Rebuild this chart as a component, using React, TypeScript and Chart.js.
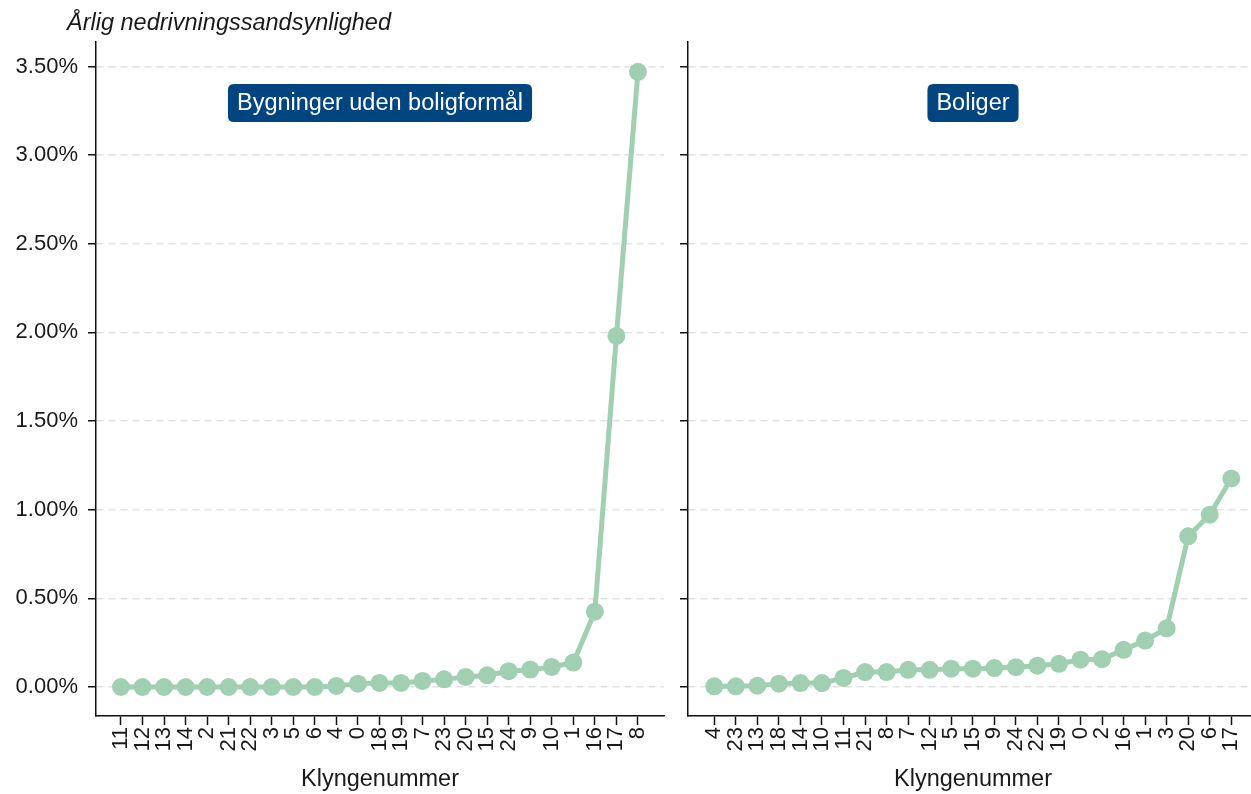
import React, { useEffect, useRef } from "react";
import { Chart, registerables } from "chart.js";

Chart.register(...registerables);

// ---- Data ----
const leftLabels = ["11", "12", "13", "14", "2", "21", "22", "3", "5", "6", "4", "0", "18", "19", "7", "23", "20", "15", "24", "9", "10", "1", "16", "17", "8"];
const leftValues = [0, 0, 0, 0, 0, 0, 0, 0, 0, 0, 0.006, 0.019, 0.023, 0.023, 0.034, 0.043, 0.057, 0.066, 0.089, 0.098, 0.113, 0.138, 0.425, 1.98, 3.47];

const rightLabels = ["4", "23", "13", "18", "14", "10", "11", "21", "8", "7", "12", "5", "15", "9", "24", "22", "19", "0", "2", "16", "1", "3", "20", "6", "17"];
const rightValues = [0.004, 0.004, 0.007, 0.019, 0.022, 0.022, 0.051, 0.084, 0.084, 0.097, 0.097, 0.103, 0.103, 0.107, 0.112, 0.12, 0.131, 0.154, 0.157, 0.21, 0.262, 0.331, 0.85, 0.972, 1.176];

const yTicks = [0, 0.5, 1, 1.5, 2, 2.5, 3, 3.5];
const leftTitle = "Bygninger uden boligformål";
const rightTitle = "Boliger";
const yAxisTitle = "Årlig nedrivningssandsynlighed";
const xAxisTitle = "Klyngenummer";

const FONT = "'Liberation Sans', Arial, sans-serif";
const LINE_COLOR = "#a1cfb1";
const BADGE_COLOR = "#004580";
const TEXT_COLOR = "#1a1a1a";

function roundRect(ctx: CanvasRenderingContext2D, x: number, y: number, w: number, h: number, r: number) {
  ctx.beginPath();
  ctx.moveTo(x + r, y);
  ctx.lineTo(x + w - r, y);
  ctx.quadraticCurveTo(x + w, y, x + w, y + r);
  ctx.lineTo(x + w, y + h - r);
  ctx.quadraticCurveTo(x + w, y + h, x + w - r, y + h);
  ctx.lineTo(x + r, y + h);
  ctx.quadraticCurveTo(x, y + h, x, y + h - r);
  ctx.lineTo(x, y + r);
  ctx.quadraticCurveTo(x, y, x + r, y);
  ctx.closePath();
}

function makeConfig(labels: string[], values: number[], badge: string, isLeft: boolean): any {
  const xMin = isLeft ? -1.16 : -1.22;
  const xMax = isLeft ? 25.21 : 25.24;
  const badgePlugin = {
    id: "badge" + (isLeft ? "L" : "R"),
    afterDraw(chart: any) {
      const ctx = chart.ctx as CanvasRenderingContext2D;
      const area = chart.chartArea;
      ctx.save();
      ctx.font = `23.5px ${FONT}`;
      const tw = ctx.measureText(badge).width;
      const padX = 9;
      const h = 38;
      const cx = (area.left + area.right) / 2;
      const cy = 103;
      ctx.fillStyle = BADGE_COLOR;
      roundRect(ctx, cx - tw / 2 - padX, cy - h / 2, tw + 2 * padX, h, 6);
      ctx.fill();
      ctx.fillStyle = "#ffffff";
      ctx.textAlign = "center";
      ctx.textBaseline = "middle";
      ctx.fillText(badge, cx, cy + 1);
      if (isLeft) {
        ctx.font = `italic 23.5px ${FONT}`;
        ctx.fillStyle = TEXT_COLOR;
        ctx.textAlign = "left";
        ctx.textBaseline = "alphabetic";
        ctx.fillText(yAxisTitle, 67, 30);
      }
      ctx.restore();
    },
  };
  return {
    type: "line",
    data: {
      datasets: [
        {
          data: values.map((v, i) => ({ x: i, y: v })),
          borderColor: LINE_COLOR,
          backgroundColor: LINE_COLOR,
          borderWidth: 5,
          pointRadius: 9,
          pointHoverRadius: 9,
          pointBorderWidth: 0,
          pointBackgroundColor: LINE_COLOR,
          tension: 0,
        },
      ],
    },
    options: {
      animation: false,
      responsive: false,
      devicePixelRatio: 1,
      layout: { autoPadding: false, padding: { top: 42, right: isLeft ? 12 : 0, left: 0, bottom: 0 } },
      plugins: { legend: { display: false }, tooltip: { enabled: false }, title: { display: false } },
      scales: {
        x: {
          type: "linear",
          min: xMin,
          max: xMax,
          afterFit(scale: any) {
            scale.height = 78;
            scale.paddingLeft = 0;
            scale.paddingRight = 0;
          },
          afterBuildTicks(scale: any) {
            scale.ticks = labels.map((_, i) => ({ value: i }));
          },
          ticks: {
            autoSkip: false,
            minRotation: 90,
            maxRotation: 90,
            padding: 2,
            color: TEXT_COLOR,
            font: { family: FONT, size: 22 },
            callback: (v: number) => labels[Math.round(v)] ?? "",
          },
          grid: {
            drawOnChartArea: false,
            drawTicks: true,
            tickLength: 9,
            tickColor: "#111",
            tickWidth: 1.5,
          },
          border: { display: true, color: "#111", width: 1.5 },
          title: {
            display: true,
            text: xAxisTitle,
            color: TEXT_COLOR,
            font: { family: FONT, size: 23.5 },
            padding: { top: 0, bottom: 0 },
          },
        },
        y: {
          type: "linear",
          min: -0.1636,
          max: 3.638,
          afterFit(scale: any) {
            scale.width = isLeft ? 96 : 12;
            scale.paddingTop = 0;
            scale.paddingBottom = 0;
          },
          afterBuildTicks(scale: any) {
            scale.ticks = yTicks.map((v) => ({ value: v }));
          },
          ticks: {
            display: isLeft,
            padding: 10,
            color: TEXT_COLOR,
            font: { family: FONT, size: 22 },
            callback: (v: number) => v.toFixed(2) + "%",
          },
          grid: {
            drawOnChartArea: true,
            drawTicks: true,
            color: "#e2e2e2",
            lineWidth: 1.5,
            tickLength: 8,
            tickColor: "#111",
            tickWidth: 1.5,
          },
          border: { display: true, color: "#111", width: 1.5, dash: [7, 5] },
        },
      },
    },
    plugins: [badgePlugin],
  };
}

function Panel({ left, width, labels, values, badge, isLeft }: any) {
  const ref = useRef<HTMLCanvasElement | null>(null);
  useEffect(() => {
    if (!ref.current) return;
    const chart = new Chart(ref.current, makeConfig(labels, values, badge, isLeft));
    return () => chart.destroy();
  }, []);
  return (
    <canvas
      ref={ref}
      width={width}
      height={794}
      style={{ position: "absolute", left, top: 0, width, height: 794 }}
    />
  );
}

export default function App() {
  return (
    <div
      style={{
        position: "fixed",
        left: 0,
        top: 0,
        width: 1251,
        height: 794,
        overflow: "hidden",
        background: "#ffffff",
      }}
    >
      <Panel left={0} width={676} labels={leftLabels} values={leftValues} badge={leftTitle} isLeft={true} />
      <Panel left={676} width={582} labels={rightLabels} values={rightValues} badge={rightTitle} isLeft={false} />
    </div>
  );
}
